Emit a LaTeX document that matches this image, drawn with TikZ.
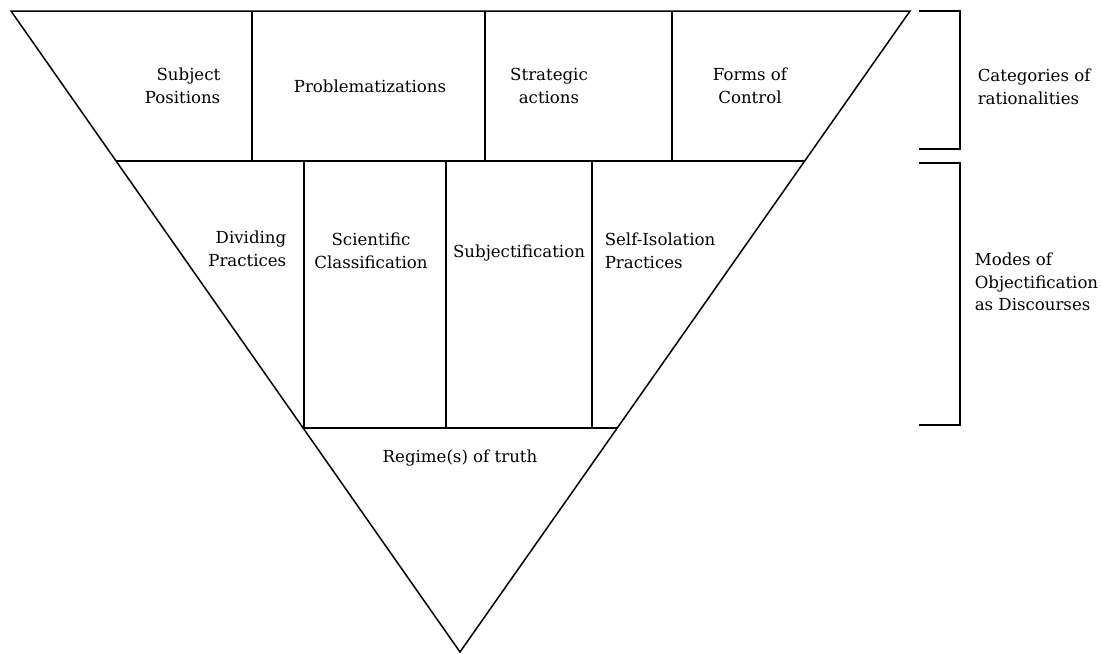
\documentclass[tikz,border=0pt]{standalone}
\usepackage{fontspec}
\setmainfont{DejaVu Serif}
\begin{document}
\begin{tikzpicture}[x=1pt,y=-1pt,line width=1.5pt,
  lbl/.style={font=\fontsize{16.6}{22.5}\selectfont,inner sep=0pt},
  divider/.style={line width=1.5pt}]
\useasboundingbox (0,0) rectangle (1102,653);
% outer inverted triangle
\coordinate (TL) at (11,11);
\coordinate (TR) at (910,11);
\coordinate (A) at (460,652);
\draw[line join=miter] (TL) -- (TR) -- (A) -- cycle;
% horizontal bands
\coordinate (b1l) at (116,161); \coordinate (b1r) at (805,161);
\coordinate (b2l) at (303,428); \coordinate (b2r) at (618,428);
\draw[divider] (b1l) -- (b1r);
\draw[divider] (b2l) -- (b2r);
% top row dividers
\foreach \x in {252,485,672} \draw[divider] (\x,11) -- (\x,161);
% middle row dividers
\foreach \x in {304,446,592} \draw[divider] (\x,161) -- (\x,428);
% brackets on the right
\draw (919,11) -- (960,11) -- (960,149) -- (919,149);
\draw (919,163) -- (960,163) -- (960,425) -- (919,425);
% top row labels
\node[lbl,align=right,anchor=east] (sp) at (221,86) {Subject\\Positions};
\node[lbl,align=center] (pr) at (370,86) {Problematizations};
\node[lbl,align=center] (sa) at (549,86) {Strategic\\actions};
\node[lbl,align=center] (fc) at (750,86) {Forms of\\Control};
% middle row labels
\node[lbl,align=right,anchor=east] (dp) at (287,249) {Dividing\\Practices};
\node[lbl,align=center] (sc) at (371,251) {Scientific\\Classification};
\node[lbl,align=center] (sj) at (519,253) {Subjectification};
\node[lbl,align=left,anchor=west] (si) at (604,251) {Self-Isolation\\Practices};
% bottom label
\node[lbl,align=center] (rt) at (460,458) {Regime(s) of truth};
% bracket labels
\node[lbl,align=left,anchor=west] (cr) at (977,87) {Categories of\\rationalities};
\node[lbl,align=left,anchor=west] (mo) at (974,282) {Modes of\\Objectification\\as Discourses};
\end{tikzpicture}
\end{document}
